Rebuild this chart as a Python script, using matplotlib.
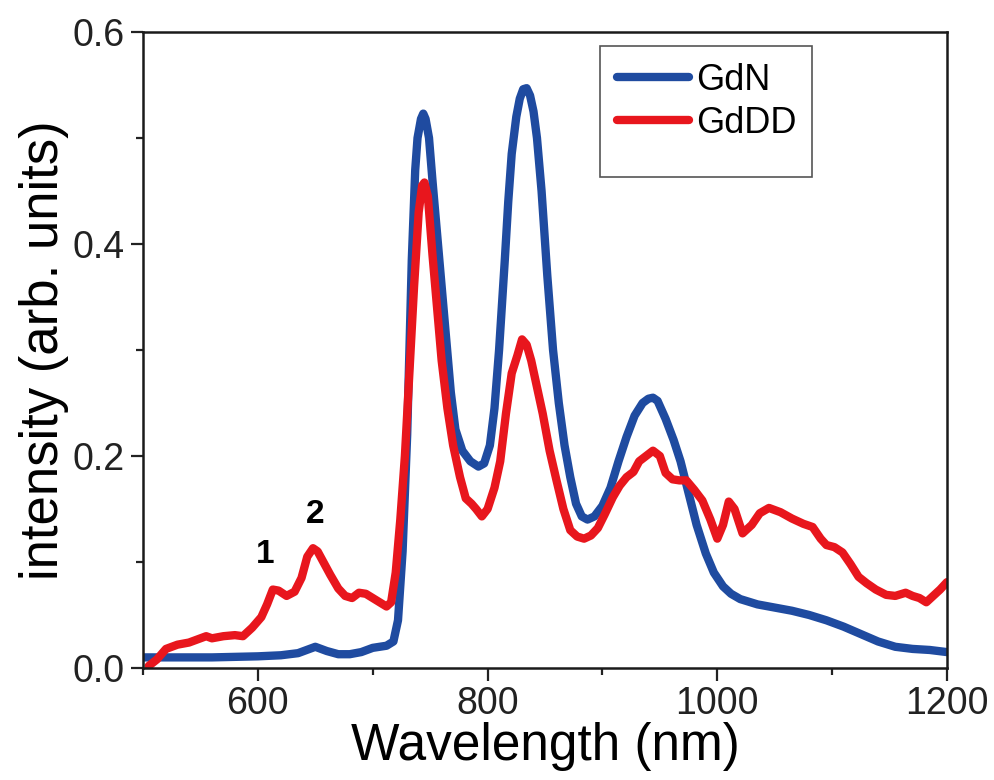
import numpy as np
import matplotlib
matplotlib.use('Agg')
import matplotlib.pyplot as plt
from matplotlib.ticker import MultipleLocator, FormatStrFormatter
from matplotlib.patches import Rectangle

plt.rcParams['font.family'] = ['Liberation Sans', 'DejaVu Sans']

# GdN spectrum (blue)
wl_gdn = [500, 520, 560, 600, 620, 635, 650, 660, 670, 680, 690, 700, 712, 718,
          722, 726, 730, 734, 737, 739, 742, 744, 746, 749, 752, 756, 760, 764,
          768, 772, 778, 785, 792, 797, 802, 806, 810, 815, 818, 821, 825, 828,
          831, 834, 837, 840, 843, 847, 852, 857, 862, 867, 872, 877, 882, 887,
          893, 900, 907, 914, 921, 928, 935, 940, 944, 948, 955, 962, 968, 975,
          982, 990, 997, 1005, 1012, 1020, 1035, 1050, 1065, 1080, 1095, 1110,
          1125, 1140, 1155, 1170, 1185, 1200]
int_gdn = [0.010, 0.010, 0.010, 0.011, 0.012, 0.014, 0.020, 0.016, 0.013, 0.013,
           0.015, 0.019, 0.021, 0.025, 0.045, 0.110, 0.220, 0.385, 0.470, 0.500,
           0.518, 0.523, 0.518, 0.500, 0.460, 0.410, 0.360, 0.310, 0.260, 0.225,
           0.205, 0.195, 0.190, 0.193, 0.210, 0.245, 0.300, 0.385, 0.440, 0.485,
           0.520, 0.537, 0.546, 0.547, 0.540, 0.525, 0.500, 0.450, 0.370, 0.300,
           0.250, 0.210, 0.180, 0.155, 0.143, 0.140, 0.143, 0.153, 0.170, 0.195,
           0.218, 0.238, 0.250, 0.254, 0.255, 0.252, 0.235, 0.215, 0.195, 0.165,
           0.135, 0.108, 0.090, 0.077, 0.070, 0.065, 0.060, 0.057, 0.054, 0.050,
           0.045, 0.039, 0.032, 0.025, 0.020, 0.018, 0.017, 0.015]

# GdDD spectrum (red)
wl_gddd = [505, 512, 520, 530, 540, 550, 555, 560, 570, 580, 587, 595, 603, 608,
           613, 618, 625, 632, 638, 643, 648, 652, 657, 663, 670, 676, 682, 688,
           694, 700, 706, 712, 716, 720, 724, 728, 732, 736, 740, 743, 745, 748,
           752, 756, 760, 765, 770, 776, 781, 786, 790, 795, 800, 806, 811, 816,
           821, 826, 830, 834, 838, 843, 848, 854, 860, 866, 872, 878, 884, 890,
           896, 902, 909, 915, 921, 927, 932, 938, 944, 950, 955, 961, 967, 973,
           980, 987, 994, 1000, 1005, 1010, 1015, 1022, 1030, 1037, 1045, 1055,
           1065, 1075, 1083, 1090, 1095, 1102, 1109, 1116, 1123, 1130, 1138,
           1147, 1155, 1164, 1170, 1176, 1182, 1188, 1194, 1200]
int_gddd = [0.002, 0.008, 0.018, 0.022, 0.024, 0.028, 0.030, 0.028, 0.030, 0.031,
            0.030, 0.038, 0.048, 0.060, 0.074, 0.073, 0.068, 0.072, 0.085, 0.105,
            0.113, 0.110, 0.100, 0.088, 0.075, 0.068, 0.066, 0.071, 0.070, 0.066,
            0.062, 0.058, 0.062, 0.090, 0.140, 0.200, 0.280, 0.360, 0.430, 0.455,
            0.458, 0.445, 0.390, 0.340, 0.290, 0.245, 0.210, 0.180, 0.160, 0.155,
            0.150, 0.143, 0.150, 0.170, 0.195, 0.240, 0.278, 0.295, 0.310, 0.305,
            0.290, 0.265, 0.240, 0.205, 0.177, 0.150, 0.130, 0.124, 0.122, 0.125,
            0.132, 0.145, 0.161, 0.172, 0.180, 0.185, 0.195, 0.200, 0.205, 0.200,
            0.184, 0.178, 0.177, 0.177, 0.168, 0.158, 0.140, 0.122, 0.135, 0.157,
            0.150, 0.127, 0.135, 0.146, 0.151, 0.147, 0.141, 0.136, 0.133, 0.122,
            0.116, 0.114, 0.109, 0.098, 0.086, 0.080, 0.074, 0.069, 0.068, 0.071,
            0.068, 0.066, 0.062, 0.068, 0.074, 0.081]

labels = ['GdN', 'GdDD']
colors = ['#1f4ba0', '#e8161d']

fig = plt.figure(figsize=(9.94, 7.8), dpi=100)
ax = fig.add_axes([0.1439, 0.1436, 0.8088, 0.8154])

ax.plot(wl_gdn, int_gdn, color=colors[0], lw=6, solid_joinstyle='round',
        solid_capstyle='round', label=labels[0])
ax.plot(wl_gddd, int_gddd, color=colors[1], lw=6, solid_joinstyle='round',
        solid_capstyle='round', label=labels[1])

ax.set_xlim(500, 1200)
ax.set_ylim(0, 0.6)
ax.xaxis.set_major_locator(MultipleLocator(200))
ax.xaxis.set_minor_locator(MultipleLocator(100))
ax.yaxis.set_major_locator(MultipleLocator(0.2))
ax.yaxis.set_minor_locator(MultipleLocator(0.1))
ax.yaxis.set_major_formatter(FormatStrFormatter('%.1f'))

ax.tick_params(which='both', direction='out', top=False, right=False,
               width=1.6, colors='#222222')
ax.tick_params(which='major', length=9, labelsize=27, pad=4)
ax.tick_params(which='minor', length=5)
for s in ax.spines.values():
    s.set_linewidth(1.8)
    s.set_color('#1a1a1a')

ax.set_xlabel('Wavelength (nm)', fontsize=37, labelpad=0)
ax.set_ylabel('intensity (arb. units)', fontsize=38, labelpad=3)

ax.text(606, 0.107, '1', fontsize=24, fontweight='bold', ha='center', va='center')
ax.text(650, 0.145, '2', fontsize=24, fontweight='bold', ha='center', va='center')

leg = ax.legend(loc='upper left', bbox_to_anchor=(0.6205, 0.9195),
                bbox_transform=fig.transFigure, frameon=False, fontsize=26,
                handlelength=2.0, handletextpad=0.2, labelspacing=0.22,
                borderaxespad=0, borderpad=0)
for line in leg.get_lines():
    line.set_linewidth(6)
    line.set_solid_capstyle('round')

fig.patches.append(Rectangle((0.6036, 0.773), 0.2133, 0.168, transform=fig.transFigure,
                             fill=False, edgecolor='#555555', lw=1.2))

fig.savefig('out.png', dpi=100)
